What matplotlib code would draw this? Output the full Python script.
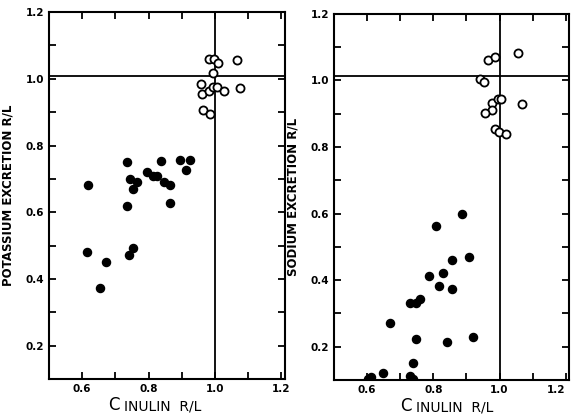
import matplotlib.pyplot as plt
from matplotlib.ticker import MultipleLocator, FixedLocator

# potassium panel (left)
k_open_x = [0.983, 0.996, 1.010, 1.066, 0.993, 0.957, 0.960, 0.983, 0.995, 1.007, 1.028, 1.075, 0.965, 0.986]
k_open_y = [1.058, 1.058, 1.047, 1.055, 1.018, 0.986, 0.956, 0.964, 0.976, 0.976, 0.964, 0.972, 0.907, 0.895]
k_fill_x = [0.618, 0.735, 0.745, 0.765, 0.753, 0.794, 0.814, 0.826, 0.836, 0.846, 0.863,
            0.895, 0.926, 0.914, 0.734, 0.863, 0.615, 0.671, 0.653, 0.742, 0.752]
k_fill_y = [0.681, 0.752, 0.699, 0.690, 0.671, 0.720, 0.710, 0.710, 0.755, 0.690, 0.681,
            0.757, 0.757, 0.727, 0.619, 0.629, 0.481, 0.451, 0.372, 0.471, 0.493]

# sodium panel (right)
na_open_x = [0.965, 0.987, 1.055, 0.942, 0.952, 0.977, 0.994, 1.005, 0.976, 0.956, 1.069, 0.987, 0.999, 1.019]
na_open_y = [1.062, 1.071, 1.083, 1.003, 0.995, 0.933, 0.943, 0.943, 0.912, 0.903, 0.930, 0.855, 0.845, 0.840]
na_fill_x = [0.887, 0.808, 0.907, 0.857, 0.828, 0.788, 0.818, 0.857, 0.728, 0.748, 0.761,
             0.668, 0.748, 0.840, 0.920, 0.740, 0.648, 0.613, 0.603, 0.728, 0.738]
na_fill_y = [0.600, 0.562, 0.470, 0.460, 0.422, 0.412, 0.382, 0.372, 0.332, 0.332, 0.344,
             0.272, 0.224, 0.214, 0.230, 0.150, 0.122, 0.108, 0.102, 0.113, 0.102]

x_labels = [0.6, 0.8, 1.0, 1.2]
y_labels = [0.2, 0.4, 0.6, 0.8, 1.0, 1.2]
h_line = [1.01, 1.013]

fig = plt.figure(figsize=(5.73, 4.18), dpi=100)
ax1 = fig.add_axes([0.0855, 0.093, 0.4115, 0.878])
ax2 = fig.add_axes([0.583, 0.091, 0.410, 0.876])

panels = [
    (ax1, k_open_x, k_open_y, k_fill_x, k_fill_y, 'POTASSIUM EXCRETION R/L', h_line[0], 0.30),
    (ax2, na_open_x, na_open_y, na_fill_x, na_fill_y, 'SODIUM EXCRETION R/L', h_line[1], 0.33),
]

for ax, ox, oy, fx, fy, ylab, hl, cx in panels:
    ax.set_xlim(0.5, 1.21)
    ax.set_ylim(0.1, 1.2)
    ax.axhline(hl, color='black', lw=1.3, zorder=1)
    ax.axvline(1.0, color='black', lw=1.3, zorder=1)
    ax.scatter(fx, fy, s=34, color='black', zorder=3)
    ax.scatter(ox, oy, s=34, facecolor='white', edgecolor='black', linewidths=1.3, zorder=3)

    ax.xaxis.set_major_locator(FixedLocator(x_labels))
    ax.yaxis.set_major_locator(FixedLocator(y_labels))
    ax.xaxis.set_minor_locator(MultipleLocator(0.1))
    ax.yaxis.set_minor_locator(MultipleLocator(0.1))
    ax.set_xticklabels(['0.6', '0.8', '1.0', '1.2'], fontsize=7.5, fontweight='bold')
    ax.set_yticklabels(['0.2', '0.4', '0.6', '0.8', '1.0', '1.2'], fontsize=7.5, fontweight='bold')
    ax.tick_params(which='both', direction='in', top=True, right=True, length=5, width=1.3)
    for sp in ax.spines.values():
        sp.set_linewidth(1.5)

    ax.set_ylabel(ylab, fontsize=8.5, fontweight='bold', labelpad=8)
    # "C" drawn larger, as in the original typesetting
    ax.text(cx, -0.085, 'C', transform=ax.transAxes, fontsize=12, ha='right', va='baseline')
    ax.text(cx + 0.02, -0.085, 'INULIN  R/L', transform=ax.transAxes, fontsize=10, ha='left', va='baseline')

# the last x label of the right panel sits at the figure edge, as in the original
ax2.get_xticklabels()[-1].set_horizontalalignment('right')

fig.savefig('out.png', dpi=100)
